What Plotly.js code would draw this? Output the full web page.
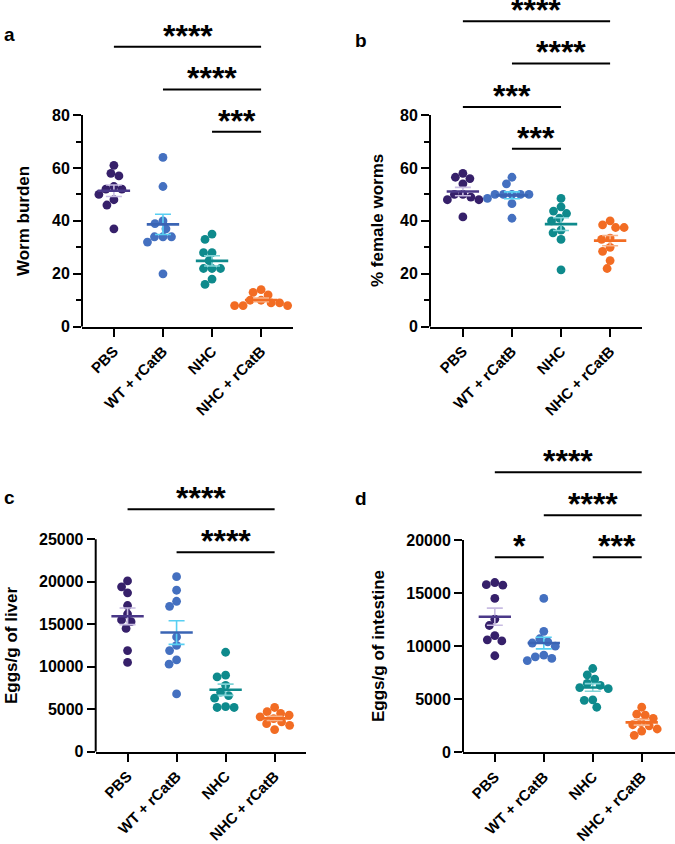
<!DOCTYPE html>
<html><head><meta charset="utf-8">
<script src="https://cdn.plot.ly/plotly-3.0.1.min.js"></script>
<style>body{margin:0;background:#fff}#chart{width:675px;height:844px}</style>
</head><body><div id="chart"></div>
<script>
// ---------- data ----------
const categories = ['PBS', 'WT + rCatB', 'NHC', 'NHC + rCatB'];
const yTicksAB = [0, 20, 40, 60, 80];
const yMinorAB = [10, 30, 50, 70];
const yTicksC = [0, 5000, 10000, 15000, 20000, 25000];
const yTicksD = [0, 5000, 10000, 15000, 20000];

// a: worm burden
const wormPBS   = [61, 58, 57, 53, 52, 52, 50, 48, 46, 37];
const wormWT    = [64, 53, 40, 39, 37, 34, 34, 34, 32, 20];
const wormNHC   = [35, 33, 28, 28, 25, 22, 22, 22, 18, 16];
const wormNHCr  = [14, 13, 12, 10, 10, 9, 9, 8, 8, 8];
// b: % female worms
const femPBS    = [58, 56.5, 56, 54, 50, 50, 49, 48, 48, 41.5];
const femWT     = [56.5, 54, 50, 50, 50, 50, 50, 48.5, 46.5, 41];
const femNHC    = [48.5, 45.3, 43.7, 42.8, 41, 40, 36.5, 35.5, 33, 21.5];
const femNHCr   = [40, 38.5, 37.5, 37.5, 33.5, 33, 30, 28.5, 25, 22];
// c: eggs/g of liver
const liverPBS  = [20100, 19400, 18700, 17200, 16200, 15500, 15300, 14500, 11900, 10500];
const liverWT   = [20600, 19000, 17700, 17100, 13500, 12500, 11900, 10800, 10300, 6800];
const liverNHC  = [11700, 9000, 8800, 7800, 7000, 6600, 6300, 5300, 5200, 5200];
const liverNHCr = [5200, 4700, 4500, 4300, 4100, 3900, 3500, 3300, 3100, 2600];
// d: eggs/g of intestine
const intPBS    = [16000, 15800, 15750, 14500, 12550, 11950, 11000, 10600, 10500, 9100];
const intWT     = [14500, 11400, 10700, 10400, 10300, 10000, 9150, 9000, 8850, 8650];
const intNHC    = [7900, 7300, 6900, 6500, 6300, 6100, 6000, 4950, 4900, 4250];
const intNHCr   = [4250, 3600, 3500, 3200, 2800, 2600, 2500, 2200, 2000, 1600];

// significance comparisons
const sigAPairs = [[0, 3], [1, 3], [2, 3]];
const sigALabels = ['****', '****', '***'];
const sigBPairs = [[0, 3], [1, 3], [0, 2], [1, 2]];
const sigBLabels = ['****', '****', '***', '***'];
const sigCPairs = [[0, 3], [1, 3]];
const sigCLabels = ['****', '****'];
const sigDPairs = [[0, 3], [1, 3], [0, 1], [2, 3]];
const sigDLabels = ['****', '****', '*', '***'];

// ---------- styling / layout ----------
const W = 675, H = 844;
const FONT = '"Liberation Sans", Arial, Helvetica, sans-serif';
const pointColors = ['#36206a', '#4470c0', '#0e8a8c', '#f26c23'];
const meanColors  = ['#4a3888', '#3a64b4', '#0e8a8c', '#f26c23'];
const errColors   = ['#c8bce2', '#58cff2', '#7fd3d6', '#f8b38a'];

const panels = [
  {letter: 'a', data: [wormPBS, wormWT, wormNHC, wormNHCr], ylabel: 'Worm burden',
   ticks: yTicksAB, minor: yMinorAB, axisTop: 80,
   xdom: [82 / W, 293 / W], xr: [-0.65, 3.65], ydom: [0.6129, 1], yr: [0, 123.5],
   pairs: sigAPairs, labels: sigALabels, levels: [105.8, 89.7, 73.7],
   letterXY: [2, 35], titleXY: [24, 221]},
  {letter: 'b', data: [femPBS, femWT, femNHC, femNHCr], ylabel: '% female worms',
   ticks: yTicksAB, minor: yMinorAB, axisTop: 80,
   xdom: [430 / W, 642 / W], xr: [-0.67, 3.65], ydom: [0.6129, 1], yr: [0, 123.5],
   pairs: sigBPairs, labels: sigBLabels, levels: [115.5, 99.5, 83.1, 67.3],
   letterXY: [353, 40], titleXY: [378, 221]},
  {letter: 'c', data: [liverPBS, liverWT, liverNHC, liverNHCr], ylabel: 'Eggs/g of liver',
   ticks: yTicksC, minor: [], axisTop: 25000,
   xdom: [95.7 / W, 306 / W], xr: [-0.65, 3.64], ydom: [0.1094, 0.4517], yr: [0, 34000],
   pairs: sigCPairs, labels: sigCLabels, levels: [28530, 23470],
   letterXY: [2, 497], titleXY: [11, 645]},
  {letter: 'd', data: [intPBS, intWT, intNHC, intNHCr], ylabel: 'Eggs/g of intestine',
   ticks: yTicksD, minor: [], axisTop: 20000,
   xdom: [463 / W, 1], xr: [-0.65, 3.68], ydom: [0.1086, 0.4733], yr: [0, 29000],
   pairs: sigDPairs, labels: sigDLabels, levels: [26378, 22327, 18370, 18370],
   letterXY: [353, 498], titleXY: [378, 646]}
];

function mean(a) { return a.reduce((s, v) => s + v, 0) / a.length; }
function sem(a) {
  const m = mean(a);
  const v = a.reduce((s, x) => s + (x - m) * (x - m), 0) / (a.length - 1);
  return Math.sqrt(v / a.length);
}
// simple beeswarm: horizontal offsets (category units) so dots don't overlap
function swarm(vals, ppuY, ppc, D) {
  const order = vals.map((v, i) => i).sort((a, b) => vals[b] - vals[a]);
  const placed = [], off = new Array(vals.length);
  for (const i of order) {
    const y = vals[i] * ppuY;
    let best = 0;
    for (let k = 0; k < 400; k++) {
      const cand = (k % 2 === 1 ? -1 : 1) * Math.ceil(k / 2) * 0.5;
      if (placed.every(p => Math.hypot(p.x - cand, p.y - y) >= D)) { best = cand; break; }
    }
    placed.push({x: best, y: y});
    off[i] = best / ppc;
  }
  return off;
}

const traces = [];
const layout = {
  width: W, height: H, margin: {l: 0, r: 0, t: 0, b: 0},
  paper_bgcolor: '#fff', plot_bgcolor: 'rgba(0,0,0,0)',
  showlegend: false, font: {family: FONT, color: '#000'},
  shapes: [], annotations: []
};
const yTickFont = {family: FONT, size: 16, color: '#000', weight: 'bold'};
const xTickFont = {family: FONT, size: 15, color: '#000', weight: 'bold'};

panels.forEach((p, n) => {
  const sfx = n === 0 ? '' : String(n + 1);
  const xa = 'x' + sfx, ya = 'y' + sfx;
  const ppuY = (p.ydom[1] - p.ydom[0]) * H / (p.yr[1] - p.yr[0]);
  const ppc = (p.xdom[1] - p.xdom[0]) * W / (p.xr[1] - p.xr[0]);

  p.data.forEach((vals, g) => {
    const off = swarm(vals, ppuY, ppc, 8.4);
    traces.push({type: 'scatter', mode: 'markers', xaxis: xa, yaxis: ya,
      x: off.map(o => g + o), y: vals,
      marker: {size: 8.8, color: pointColors[g], line: {width: 0}}});
    const m = mean(vals), s = sem(vals);
    traces.push({type: 'scatter', mode: 'markers', xaxis: xa, yaxis: ya,
      x: [g], y: [m], marker: {size: 1, opacity: 0},
      error_y: {type: 'data', array: [s], visible: true, color: errColors[g], thickness: 1.6, width: 8}});
    traces.push({type: 'scatter', mode: 'lines', xaxis: xa, yaxis: ya,
      x: [g - 0.33, g + 0.33], y: [m, m], line: {color: meanColors[g], width: 2.6}});
  });

  layout['xaxis' + sfx] = {
    domain: p.xdom, range: p.xr, anchor: ya,
    tickvals: [0, 1, 2, 3], ticktext: categories, tickangle: -45,
    ticks: 'outside', ticklen: 8, tickwidth: 2, tickcolor: '#000',
    showline: true, linewidth: 2, linecolor: '#000',
    showgrid: false, zeroline: false, tickfont: xTickFont, fixedrange: true
  };
  const yax = {
    domain: p.ydom, range: p.yr, anchor: xa,
    tickvals: p.ticks, tickformat: 'd',
    ticks: 'outside', ticklen: 8, tickwidth: 2, tickcolor: '#000',
    showline: false, showgrid: false, zeroline: false, tickfont: yTickFont, fixedrange: true
  };
  if (p.minor.length) {
    yax.minor = {tickmode: 'array', tickvals: p.minor, ticks: 'outside', ticklen: 5, tickwidth: 2, tickcolor: '#000', showgrid: false};
  }
  layout['yaxis' + sfx] = yax;

  // y axis line up to the top tick
  layout.shapes.push({type: 'line', xref: xa + ' domain', yref: ya, x0: 0, x1: 0, y0: 0, y1: p.axisTop,
    line: {color: '#000', width: 2}});

  // significance bars and stars
  p.pairs.forEach((pr, k) => {
    const lev = p.levels[k];
    layout.shapes.push({type: 'line', xref: xa, yref: ya, x0: pr[0], x1: pr[1], y0: lev, y1: lev,
      line: {color: '#000', width: 2}});
    layout.annotations.push({xref: xa, yref: ya, x: (pr[0] + pr[1]) / 2, y: lev,
      text: p.labels[k], showarrow: false, xanchor: 'center', yanchor: 'middle', yshift: 11,
      font: {family: FONT, size: 32, color: '#000', weight: 'bold'}});
  });

  // y title
  layout.annotations.push({xref: 'paper', yref: 'paper', x: p.titleXY[0] / W, y: 1 - p.titleXY[1] / H,
    text: p.ylabel, textangle: -90, showarrow: false, xanchor: 'center', yanchor: 'middle',
    font: {family: FONT, size: 17, color: '#000', weight: 'bold'}});
  // panel letter
  layout.annotations.push({xref: 'paper', yref: 'paper', x: p.letterXY[0] / W, y: 1 - p.letterXY[1] / H,
    text: p.letter, showarrow: false, xanchor: 'left', yanchor: 'middle',
    font: {family: FONT, size: 19, color: '#000', weight: 'bold'}});
});

Plotly.newPlot('chart', traces, layout, {staticPlot: true, displayModeBar: false});
</script>
</body></html>
